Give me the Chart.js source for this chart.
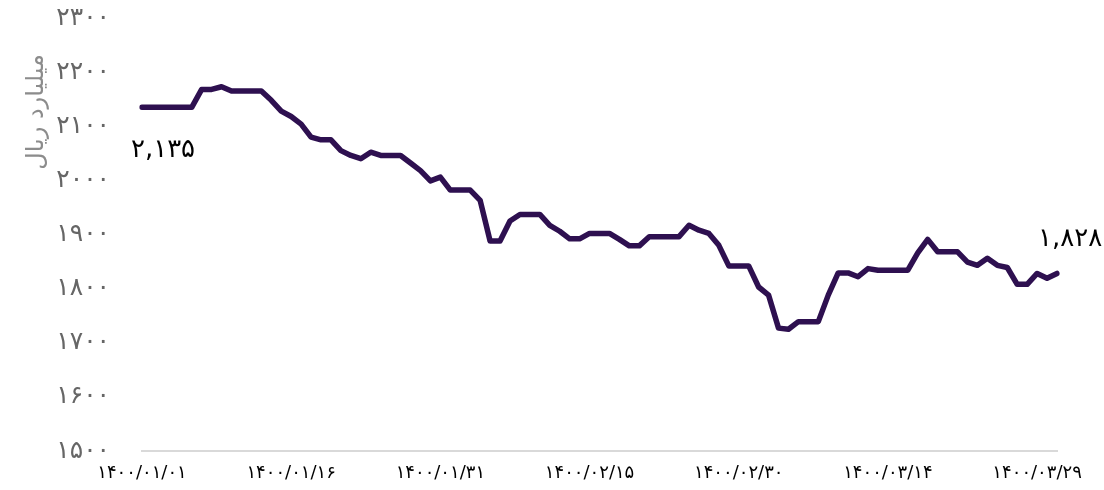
<!DOCTYPE html>
<html>
<head>
<meta charset="utf-8">
<script src="https://cdn.jsdelivr.net/npm/chart.js@4"></script>
<style>
  html, body { margin: 0; padding: 0; background: #fff; }
  #wrap { width: 1104px; height: 490px; }
</style>
</head>
<body>
<div id="wrap"><canvas id="chart"></canvas></div>
<script>
// daily values, 1400/01/01 .. 1400/03/31 (billion rials)
const values = [
  2135, 2135, 2135, 2135, 2135, 2135, 2168, 2168, 2173, 2165,
  2165, 2165, 2165, 2148, 2128, 2118, 2104, 2080, 2075, 2075,
  2055, 2046, 2040, 2052, 2046, 2046, 2046, 2032, 2018, 1999,
  2006, 1982, 1982, 1982, 1963, 1888, 1888, 1925, 1937, 1937,
  1937, 1917, 1906, 1892, 1892, 1902, 1902, 1902, 1891, 1879,
  1879, 1896, 1896, 1896, 1896, 1917, 1908, 1902, 1880, 1842,
  1842, 1842, 1803, 1788, 1727, 1725, 1739, 1739, 1739, 1788,
  1829, 1829, 1822, 1837, 1834, 1834, 1834, 1834, 1866, 1891,
  1868, 1868, 1868, 1849, 1843, 1856, 1843, 1839, 1808, 1808,
  1828, 1819, 1828
];
const year = 1400;
const monthDays = [31, 31, 31];
const yMin = 1500;
const yMax = 2300;
const yStep = 100;
const labelEvery = 15;
const axisTitle = 'میلیارد ریال';

const FONT = '"DejaVu Sans", sans-serif';

function fa(s) {
  return String(s).replace(/\d/g, d => '۰۱۲۳۴۵۶۷۸۹'[d]);
}
function pad(n) { return n < 10 ? '0' + n : '' + n; }

const labels = [];
monthDays.forEach((n, m) => {
  for (let d = 1; d <= n; d++) labels.push(fa(year + '/' + pad(m + 1) + '/' + pad(d)));
});

// value labels at both ends of the line
const endLabels = {
  id: 'endLabels',
  afterDatasetsDraw(chart) {
    const ctx = chart.ctx;
    const pts = chart.getDatasetMeta(0).data;
    const first = pts[0], last = pts[pts.length - 1];
    ctx.save();
    ctx.font = '26px ' + FONT;
    ctx.fillStyle = '#000';
    ctx.textBaseline = 'middle';
    ctx.textAlign = 'center';
    ctx.fillText(fa(values[0].toLocaleString('en-US')), first.x + 21, first.y + 43);
    ctx.textAlign = 'left';
    ctx.fillText(fa(values[values.length - 1].toLocaleString('en-US')), last.x - 19, last.y - 34);
    ctx.restore();
  }
};

// rotated y title, sits near the top of the axis
const yTitle = {
  id: 'yTitle',
  afterDraw(chart) {
    const ctx = chart.ctx;
    const a = chart.chartArea;
    ctx.save();
    ctx.translate(a.left - 105, a.top + 94);
    ctx.rotate(-Math.PI / 2);
    ctx.font = '24px ' + FONT;
    ctx.fillStyle = '#8c8c8c';
    ctx.textAlign = 'center';
    ctx.textBaseline = 'middle';
    ctx.fillText(axisTitle, 0, 0);
    ctx.restore();
  }
};

new Chart(document.getElementById('chart'), {
  type: 'line',
  data: {
    labels: labels,
    datasets: [{
      data: values,
      borderColor: '#2e1050',
      borderWidth: 5.5,
      borderJoinStyle: 'round',
      borderCapStyle: 'round',
      pointRadius: 0,
      tension: 0,
      fill: false
    }]
  },
  options: {
    responsive: true,
    maintainAspectRatio: false,
    animation: false,
    layout: { padding: { top: 18, right: 47, bottom: 0, left: 0 } },
    plugins: {
      legend: { display: false },
      tooltip: { enabled: false }
    },
    scales: {
      x: {
        offset: false,
        grid: { display: false, drawTicks: false },
        border: { display: true, color: '#d9d9d9', width: 2 },
        ticks: {
          autoSkip: false,
          maxRotation: 0,
          padding: 12,
          color: '#000',
          font: { family: FONT, size: 18 },
          callback: function(value, index) {
            return index % labelEvery === 0 ? labels[index] : '';
          }
        },
        afterFit: function(scale) {
          scale.height = 39;
          scale.paddingLeft = 0;
          scale.paddingRight = 0;
        }
      },
      y: {
        min: yMin,
        max: yMax,
        grid: { display: false, drawTicks: false },
        border: { display: false },
        ticks: {
          stepSize: yStep,
          padding: 32,
          color: '#666',
          font: { family: FONT, size: 25 },
          callback: function(value) { return fa(value); }
        },
        afterFit: function(scale) {
          scale.width = 142;
          scale.paddingTop = 0;
          scale.paddingBottom = 0;
        }
      }
    }
  },
  plugins: [endLabels, yTitle]
});
</script>
</body>
</html>
